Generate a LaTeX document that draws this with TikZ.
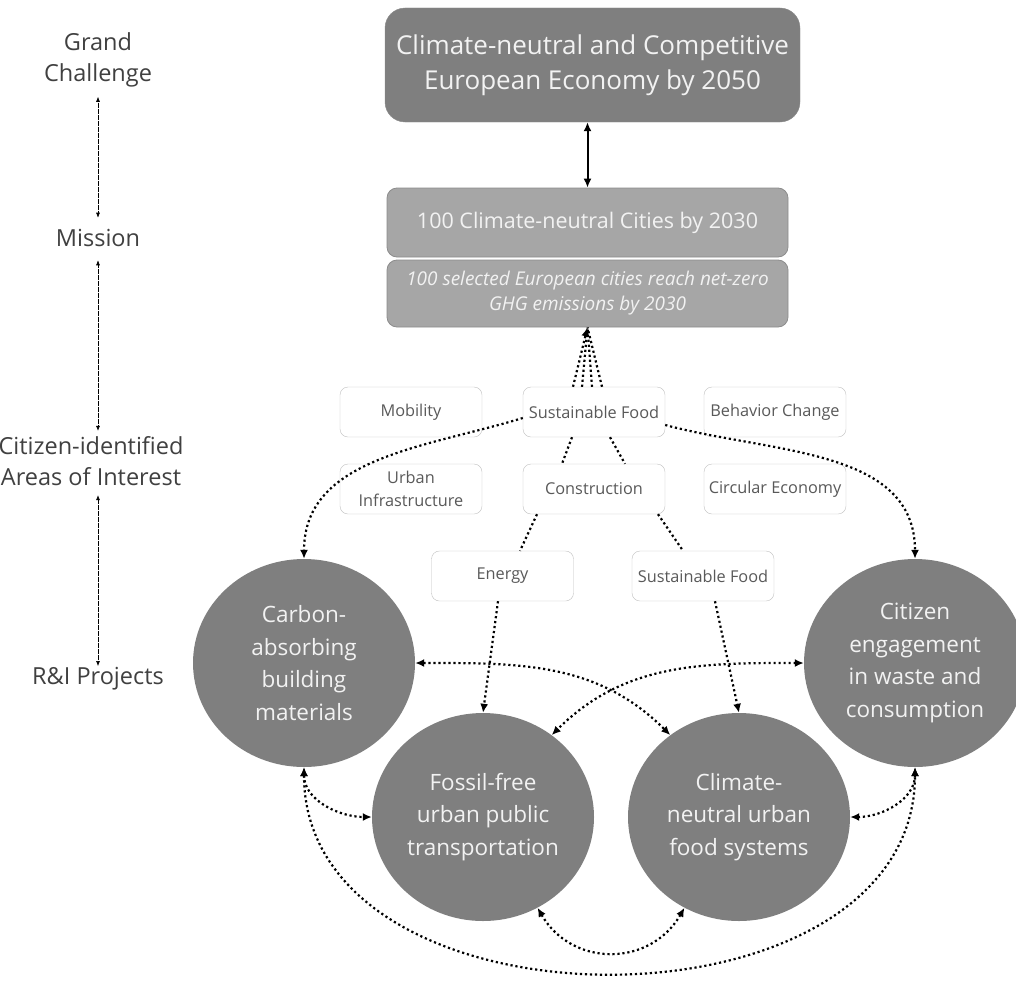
\documentclass[tikz,border=0pt]{standalone}
\usepackage{fontspec}
\setmainfont{Open Sans}
\usepackage{tikz}
\usetikzlibrary{arrows.meta}
\usetikzlibrary{shapes.geometric}

\definecolor{goalgray}{HTML}{7F7F7F}
\definecolor{missiongray}{HTML}{A6A6A6}
\definecolor{missionedge}{HTML}{8C8C8C}
\definecolor{areaedge}{HTML}{BFBFBF}
\definecolor{areatext}{HTML}{595959}
\definecolor{labelgray}{HTML}{404040}
\definecolor{paletext}{HTML}{F2F2F2}

\begin{document}
\begin{tikzpicture}[x=1pt, y=-1pt, > = {Latex[length=9pt,width=8pt]},
	goalbox/.style    = {rectangle, rounded corners=20pt, fill=goalgray, draw=missionedge, text=paletext,
	                     minimum width=415pt, minimum height=114pt, align=center, font=\fontsize{26}{35}\selectfont},
	missionbox/.style = {rectangle, rounded corners=10pt, fill=missiongray, draw=missionedge, line width=0.8pt,
	                     text=paletext, minimum width=401pt, minimum height=69pt, align=center, font=\fontsize{21.5}{25}\selectfont},
	descbox/.style    = {missionbox, minimum height=67pt, font=\itshape\fontsize{19}{25}\selectfont},
	areabox/.style    = {rectangle, rounded corners=8pt, fill=white, draw=areaedge, text=areatext, inner sep=2pt,
	                     minimum width=142pt, minimum height=50pt, align=center, font=\fontsize{16.3}{23}\selectfont},
	project/.style    = {ellipse, fill=goalgray, text=paletext, inner sep=0pt, minimum width=222pt, minimum height=208pt,
	                     align=center, font=\fontsize{22.5}{32.5}\selectfont},
	link/.style       = {line width=2.2pt, dash pattern=on 2.2pt off 2.8pt},
	levellabel/.style = {text=labelgray, align=center, font=\fontsize{23.5}{31}\selectfont},
	levelarrow/.style = {<->, >={Latex[length=5pt,width=4pt]}, line width=0.6pt, dash pattern=on 0.6pt off 0.6pt},
	]

	\useasboundingbox (0,0) rectangle (1016,982);

	% levels on the left
	\node[levellabel] (grand)   at (98,60)  {Grand\\Challenge};
	\node[levellabel] (mission) at (98,238) {Mission};
	\node[levellabel] (areas)   at (91,461) {Citizen-identified\\Areas of Interest};
	\node[levellabel] (rni)     at (98,679) {R\&I Projects};

	\draw[levelarrow, shorten <=6pt, shorten >=8pt] (grand.south) -- (mission.north);
	\draw[levelarrow, shorten <=10pt, shorten >=2pt] (mission.south) -- (areas.north -| mission.south);
	\draw[levelarrow, shorten <=6pt, shorten >=-2pt] (areas.south -| rni.north) -- (rni.north);

	% goal and mission
	\node[goalbox]    (goal) at (592.5,65)    {Climate-neutral and Competitive\\European Economy by 2050};
	\node[missionbox] (city) at (587.5,222.5) {100 Climate-neutral Cities by 2030};
	\node[descbox]    (desc) at (587.5,293.5) {100 selected European cities reach net-zero\\GHG emissions by 2030};

	\draw[<->, line width=2pt] (city.north |- goal.south) -- (city.north);

	% areas of interest
	\node[areabox] (mobility) at (411,412) {Mobility};
	\node[areabox] (sfood)    at (594,412) {Sustainable Food};
	\node[areabox] (behavior) at (775,412) {Behavior Change};
	\node[areabox] (urbinf)   at (411,489) {Urban\\Infrastructure};
	\node[areabox] (constr)   at (594,489) {Construction};
	\node[areabox] (circular) at (775,489) {Circular Economy};
	\node[areabox] (energy)   at (502.5,576) {Energy};
	\node[areabox] (sfood2)   at (703,576)   {Sustainable Food};

	% projects
	\node[project] (carbon)  at (304,663) {Carbon-\\absorbing\\building\\materials};
	\node[project] (fossil)  at (483,817) {Fossil-free\\urban public\\transportation};
	\node[project] (climate) at (739,817) {Climate-\\neutral urban\\food systems};
	\node[project] (citizen) at (915,663) {Citizen\\engagement\\in waste and\\consumption};

	% areas up to the mission
	\draw[link, ->] ([xshift=-21pt]sfood.north) -- (desc.south);
	\draw[link] ([xshift=-12pt]sfood.north) -- (desc.south);
	\draw[link] ([xshift=-2pt]sfood.north) -- (desc.south);
	\draw[link] ([xshift=8pt]sfood.north) -- (desc.south);

	\draw[link] ([xshift=-22pt]sfood.south) -- ([xshift=-32pt]constr.north);
	\draw[link] ([xshift=16pt]sfood.south) -- ([xshift=31pt]constr.north);
	\draw[link] ([xshift=-57pt]constr.south) -- ([xshift=17.5pt]energy.north);
	\draw[link] ([xshift=64pt]constr.south) -- ([xshift=-20pt]sfood2.north);

	% areas down to the projects
	\draw[link, ->] ([yshift=-6pt]sfood.west) to[out=197, in=90] (carbon.north);
	\draw[link, ->] ([yshift=-13pt]sfood.east) to[out=-15, in=90] (citizen.north);
	\draw[link, ->] ([xshift=-4.5pt]energy.south) -- (fossil.north);
	\draw[link, ->] ([xshift=12pt]sfood2.south) -- (climate.north);

	% links between the projects
	\draw[link, <->] (carbon.east) to[out=0, in=135] (climate.130);
	\draw[link, <->] (citizen.west) to[out=180, in=45] (fossil.50);
	\draw[link, <->] (carbon.south) to[out=-90, in=180] (fossil.west);
	\draw[link, <->] (citizen.south) to[out=-90, in=0] (climate.east);
	\draw[link, <->] (fossil.-59) to[out=-60, in=-120, looseness=1.2] (climate.-121);
	\draw[link, <->] (carbon.south) to[out=-90, in=-90, looseness=1.15] (citizen.south);

\end{tikzpicture}
\end{document}
